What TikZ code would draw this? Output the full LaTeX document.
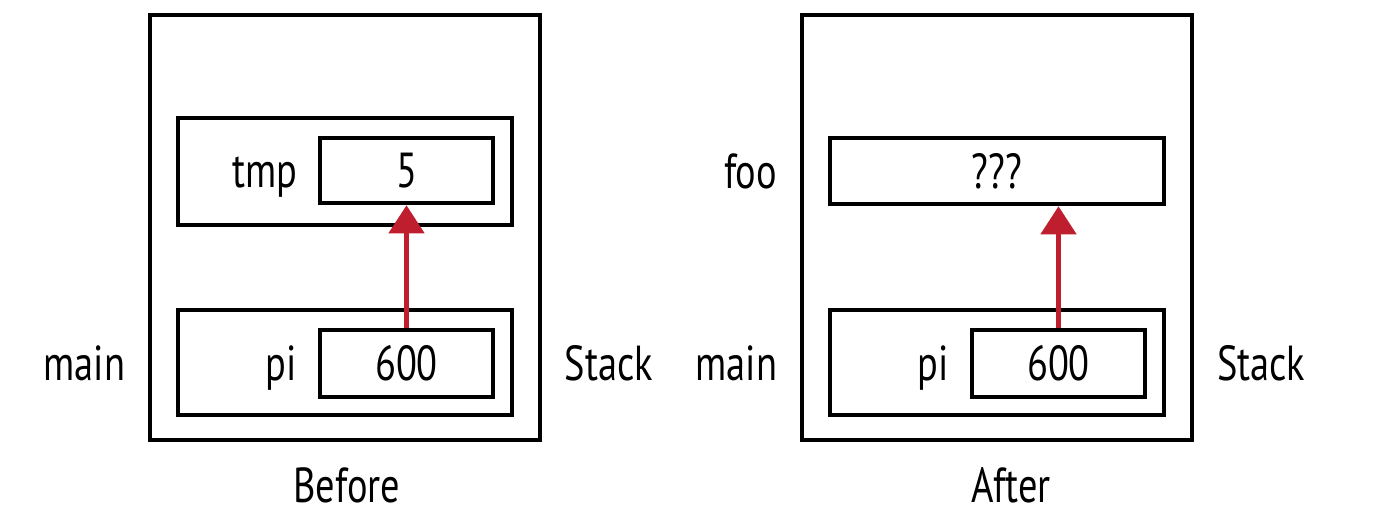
\documentclass[tikz,border=0pt]{standalone}
\usepackage{fontspec}
\setmainfont{PT Sans}[FakeStretch=0.78]
\usetikzlibrary{positioning,arrows.meta}
\definecolor{ptrred}{RGB}{190,30,45}

\begin{document}
\begin{tikzpicture}[
    box/.style={draw, line width=1.3pt, inner sep=0pt},
    lbl/.style={font=\fontsize{14}{16}\selectfont, inner sep=0pt},
    ptr/.style={draw=ptrred, fill=ptrred, line width=1.3pt,
                -{Triangle[width=0.35cm,length=0.28cm]}}]
    \useasboundingbox (0,0) rectangle (13.8,5.32);

    % Before: stack with two frames
    \node[box, minimum width=3.9cm, minimum height=4.25cm] (bstack) at (3.45,3.045) {};
    \node[box, minimum width=3.34cm, minimum height=1.07cm] (bfoo) at (3.45,3.605) {};
    \node[box, minimum width=3.34cm, minimum height=1.05cm] (bmain) at (3.45,1.695) {};
    \node[box, lbl, minimum width=1.73cm, minimum height=0.65cm] (btmp) at (4.065,3.615) {5};
    \node[box, lbl, minimum width=1.73cm, minimum height=0.67cm] (bpi) at (4.065,1.685) {600};

    % Before: labels
    \node[lbl, anchor=base east] (btmpname) at ([xshift=-0.2cm]btmp.base west) {tmp};
    \node[lbl, anchor=base east] (bpiname) at ([xshift=-0.2cm]bpi.base west) {pi};
    \node[lbl, anchor=base east] (bmainname) at ([xshift=-0.22cm]bpi.base -| bstack.west) {main};
    \node[lbl, anchor=base west] (bstackname) at ([xshift=0.22cm]bpi.base -| bstack.east) {Stack};
    \node[lbl, anchor=base] (before) at ([xshift=0.02cm,yshift=-0.6cm]bstack.south) {Before};

    % Before: pointer
    \draw[ptr] (bpi.north) -- (btmp.south);

    % After: foo frame left behind
    \node[box, minimum width=3.9cm, minimum height=4.25cm] (astack) at (9.97,3.045) {};
    \node[box, lbl, minimum width=3.34cm, minimum height=0.66cm] (afoo) at (9.97,3.61) {???};
    \node[box, minimum width=3.34cm, minimum height=1.05cm] (amain) at (9.97,1.695) {};
    \node[box, lbl, minimum width=1.73cm, minimum height=0.67cm] (api) at (10.585,1.685) {600};

    % After: labels
    \node[lbl, anchor=base east] (afooname) at ([xshift=-0.22cm]afoo.base -| astack.west) {foo};
    \node[lbl, anchor=base east] (apiname) at ([xshift=-0.2cm]api.base west) {pi};
    \node[lbl, anchor=base east] (amainname) at ([xshift=-0.22cm]api.base -| astack.west) {main};
    \node[lbl, anchor=base west] (astackname) at ([xshift=0.22cm]api.base -| astack.east) {Stack};
    \node[lbl, anchor=base] (after) at ([xshift=0.14cm,yshift=-0.6cm]astack.south) {After};

    % After: dangling pointer
    \draw[ptr] (api.north) -- (api.north |- afoo.south);
\end{tikzpicture}
\end{document}
